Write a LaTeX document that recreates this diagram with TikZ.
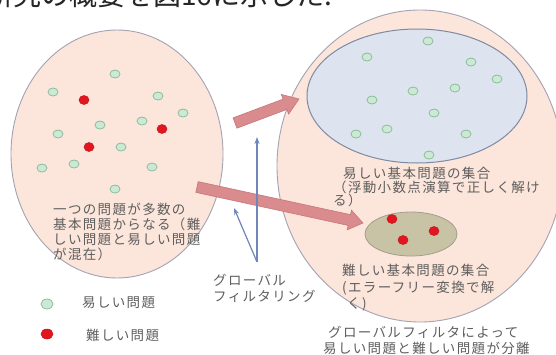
\documentclass[tikz,border=0pt]{standalone}
\usepackage{fontspec}
\setmainfont{Noto Sans CJK JP}
\newfontfamily\jp{Noto Sans CJK JP}[LetterSpace=10]
\usetikzlibrary{shapes.geometric,calc,arrows.meta}
\definecolor{pinkfill}{HTML}{FCE5DA}
\definecolor{outline}{HTML}{A3A3B3}
\definecolor{bluefill}{HTML}{DDE4EF}
\definecolor{blueline}{HTML}{7E8AA2}
\definecolor{greenfill}{HTML}{CBE9D4}
\definecolor{greenline}{HTML}{8DBE9C}
\definecolor{reddot}{HTML}{E2161E}
\definecolor{olivefill}{HTML}{C9C3A5}
\definecolor{oliveline}{HTML}{A29E8E}
\definecolor{arrowfill}{HTML}{DA8B8D}
\definecolor{arrowline}{HTML}{C67679}
\definecolor{filterblue}{HTML}{6F86B9}
\definecolor{txt}{HTML}{5E5E5E}
\tikzset{
  bigset/.style={ellipse, draw=outline, fill=pinkfill, line width=0.9pt, inner sep=0pt},
  easy/.style={ellipse, draw=greenline, fill=greenfill, line width=0.8pt, minimum width=10pt, minimum height=8pt, inner sep=0pt},
  hard/.style={ellipse, draw=reddot!85!black, fill=reddot, line width=0.5pt, minimum width=10pt, minimum height=9pt, inner sep=0pt},
  blockarrow/.style={fill=arrowfill, draw=arrowline, line width=0.6pt, line join=miter},
  filterarrow/.style={draw=filterblue, line width=1.2pt, -{Stealth[length=7pt,width=5pt]}},
  lbl/.style={font=\jp\fontsize{13.5pt}{15pt}\selectfont, text=txt, align=left, inner sep=0pt},
}
\newcommand\pinkarrow[5]{%
  \coordinate (#2n) at ($(#2)!#5!(#1)$);
  \path[blockarrow] ($(#1)!#3!90:(#2)$) -- ($(#2n)!#3!90:(#2)$) -- ($(#2n)!#4!90:(#2)$) -- (#2)
     -- ($(#2n)!#4!-90:(#2)$) -- ($(#2n)!#3!-90:(#2)$) -- ($(#1)!#3!-90:(#2)$) -- cycle;}
\begin{document}
\begin{tikzpicture}[x=1pt,y=-1pt]
\clip (0,0) rectangle (556,354);
\fill[white] (0,0) rectangle (556,354);
% top cut text line
\node[anchor=base west, inner sep=0pt, font=\fontsize{28pt}{30pt}\selectfont, text=black!85] (top) at (-15,5) {研究の概要を図16に示した.};
% big sets
\node[bigset, minimum width=212pt, minimum height=248pt] (L) at (117,154) {};
\node[bigset, minimum width=286pt, minimum height=312pt] (R) at (420,166) {};
\node[ellipse, draw=blueline, fill=bluefill, line width=1pt, minimum width=220pt, minimum height=134pt, inner sep=0pt] (E) at (417,96) {};
\node[ellipse, draw=oliveline, fill=olivefill, line width=0.8pt, minimum width=92pt, minimum height=44pt, inner sep=0pt] (H) at (411,234) {};
% dots in the left set
\foreach \x/\y [count=\i] in {115/74, 53/92, 158/96, 183/113, 100/125, 142/121, 58/134, 121/147, 42/168, 74/164, 152/167, 115/189}
  \node[easy] (le\i) at (\x,\y) {};
\foreach \x/\y [count=\i] in {84/100, 162/129, 89/147}
  \node[hard] (lh\i) at (\x,\y) {};
% dots in the easy set
\foreach \x/\y [count=\i] in {428/41, 367/57, 471/62, 497/79, 413/91, 455/88, 372/100, 434/113, 356/134, 387/129, 466/134, 429/155}
  \node[easy] (re\i) at (\x,\y) {};
% dots in the hard set
\foreach \x/\y [count=\i] in {392/219, 434/231, 403/240}
  \node[hard] (rh\i) at (\x,\y) {};
% texts
\node[lbl, anchor=north west] (Ltxt) at (53,203) {一つの問題が多数の\\基本問題からなる（難\\しい問題と易しい問題\\が混在）};
\node[lbl, anchor=north west, font=\jp\fontsize{13.5pt}{13.5pt}\selectfont] (Etxt) at (333,167) {\hspace*{10pt}易しい基本問題の集合\\（浮動小数点演算で正しく解け\\る）};
\node[lbl, anchor=north west, font=\jp\fontsize{13.5pt}{16.5pt}\selectfont] (Htxt) at (342,264) {難しい基本問題の集合\\(エラーフリー変換で解\\\hspace*{5pt}く)};
\node[lbl, anchor=north west, font=\jp\fontsize{13.5pt}{16pt}\selectfont] (Btxt) at (323,326) {\hspace*{5pt}グローバルフィルタによって\\易しい問題と難しい問題が分離};
\node[lbl, anchor=north west, font=\jp\fontsize{13.5pt}{16pt}\selectfont] (gf) at (213,274) {グローバル\\フィルタリング};
% legend
\node[easy, minimum width=12pt, minimum height=10pt] (lge) at (47,304) {};
\node[lbl, anchor=west] (lget) at (82,303) {易しい問題};
\node[hard, minimum width=12pt, minimum height=10pt] (lgh) at (47,334) {};
\node[lbl, anchor=west] (lght) at (86,335) {難しい問題};
% pink block arrows
\coordinate (a1t) at (235,123); \coordinate (a1h) at (299,99);
\pinkarrow{a1t}{a1h}{5.5pt}{10.5pt}{15pt}
\coordinate (a2t) at (197,187); \coordinate (a2h) at (363,223);
\pinkarrow{a2t}{a2h}{5.5pt}{10pt}{14pt}
% global filtering arrows
\coordinate (fb) at (257,262);
\coordinate (fu) at (257,137);
\coordinate (fl) at (234,208);
\draw[filterarrow] (fb) -- (fu);
\draw[filterarrow] (fb) -- (fl);
\end{tikzpicture}
\end{document}
